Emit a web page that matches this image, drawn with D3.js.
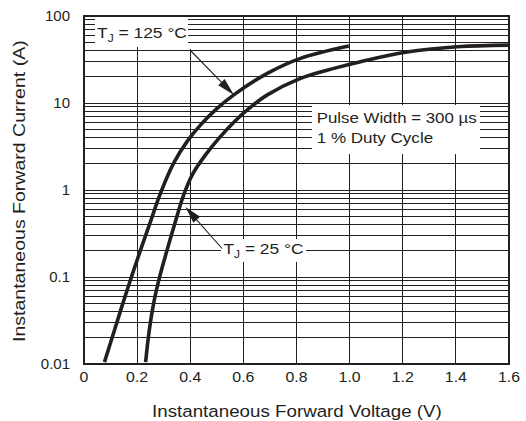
<!DOCTYPE html>
<html>
<head>
<meta charset="utf-8">
<script src="https://cdn.jsdelivr.net/npm/d3@7"></script>
<style>
  html, body { margin: 0; padding: 0; background: #fff; }
  svg { display: block; }
  text { font-family: "Liberation Sans", Arial, Helvetica, sans-serif; fill: #231f20; }
</style>
</head>
<body>
<div id="chart"></div>
<script>
// ---- data ----
const voltageTicks = [0, 0.2, 0.4, 0.6, 0.8, 1.0, 1.2, 1.4, 1.6];
const xTickLabels = ["0", "0.2", "0.4", "0.6", "0.8", "1.0", "1.2", "1.4", "1.6"];
const currentTicks = [0.01, 0.1, 1, 10, 100];
const yTickLabels = ["0.01", "0.1", "1", "10", "100"];

// T_J = 125 °C
const v125 = [0.077, 0.119, 0.150, 0.181, 0.213, 0.250, 0.288, 0.338, 0.389, 0.439, 0.500, 0.564, 0.690, 0.815, 0.997];
const i125 = [0.0105, 0.027, 0.054, 0.105, 0.205, 0.43, 0.92, 2.05, 3.65, 5.6, 8.6, 12.4, 21.9, 32.6, 45.1];

// T_J = 25 °C
const v25 = [0.232, 0.245, 0.262, 0.285, 0.312, 0.340, 0.376, 0.411, 0.456, 0.510, 0.566, 0.620, 0.690, 0.815, 0.941, 1.041, 1.204, 1.405, 1.6];
const i25 = [0.0105, 0.0235, 0.0495, 0.101, 0.200, 0.394, 0.89, 1.56, 2.5, 4.0, 6.1, 8.6, 12.4, 19.2, 25.0, 29.8, 38.0, 44.3, 46.3];

const xTitle = "Instantaneous Forward Voltage (V)";
const yTitle = "Instantaneous Forward Current (A)";

// ---- layout ----
const W = 526, H = 421;
const L = 84, R = 509, T = 16, B = 364;
const ink = "#231f20";

const svg = d3.select("#chart").append("svg").attr("width", W).attr("height", H);
svg.append("rect").attr("width", W).attr("height", H).attr("fill", "#fff");

const x = d3.scaleLinear().domain([0, 1.6]).range([L, R]);
const y = d3.scaleLog().domain([0.01, 100]).range([B, T]);

// vertical grid
const grid = svg.append("g").attr("stroke", ink).attr("stroke-width", 1).attr("shape-rendering", "crispEdges");
grid.selectAll("line.v").data(voltageTicks.slice(1, -1)).join("line")
  .attr("class", "v")
  .attr("x1", d => x(d)).attr("x2", d => x(d)).attr("y1", T).attr("y2", B);

// patch: vertical 0.4 line hidden above the 125 °C label leader
svg.append("rect").attr("x", x(0.4) - 2).attr("y", T + 1).attr("width", 4).attr("height", 32).attr("fill", "#fff");

// horizontal grid (minor + major)
const hVals = [];
for (let n = -2; n <= 1; n++) for (let k = 1; k <= 9; k++) {
  const v = k * Math.pow(10, n);
  if (v > 0.01) hVals.push(v);
}
hVals.push(100);
const hgrid = svg.append("g").attr("stroke", ink).attr("stroke-width", 1).attr("shape-rendering", "crispEdges");
hgrid.selectAll("line").data(hVals).join("line")
  .attr("x1", L).attr("x2", R).attr("y1", d => y(d)).attr("y2", d => y(d));

// label boxes (white backgrounds that break the grid)
const boxes = [
  {x: 95, y: 17, w: 93, h: 30},
  {x: 221, y: 239, w: 85, h: 23},
  {x: 312, y: 105, w: 168, h: 49}
];
svg.selectAll("rect.box").data(boxes).join("rect").attr("class", "box")
  .attr("x", d => d.x).attr("y", d => d.y).attr("width", d => d.w).attr("height", d => d.h)
  .attr("fill", "#fff");

// border
svg.append("rect").attr("x", L).attr("y", T).attr("width", R - L).attr("height", B - T)
  .attr("fill", "none").attr("stroke", ink).attr("stroke-width", 2);

// curves
const line = d3.line().x(d => x(d[0])).y(d => y(d[1])).curve(d3.curveCatmullRom.alpha(0.5));
const c125 = v125.map((v, i) => [v, i125[i]]);
const c25 = v25.map((v, i) => [v, i25[i]]);
svg.selectAll("path.curve").data([c125, c25]).join("path").attr("class", "curve")
  .attr("d", line).attr("fill", "none").attr("stroke", ink).attr("stroke-width", 3.6)
  .attr("stroke-linecap", "butt");

// arrows
function arrow(x1, y1, x2, y2, len, wid) {
  const dx = x2 - x1, dy = y2 - y1, Ln = Math.hypot(dx, dy);
  const ux = dx / Ln, uy = dy / Ln;
  const bx = x2 - ux * len, by = y2 - uy * len;
  const px = -uy * wid / 2, py = ux * wid / 2;
  svg.append("line").attr("x1", x1).attr("y1", y1).attr("x2", bx + ux * 2).attr("y2", by + uy * 2)
    .attr("stroke", ink).attr("stroke-width", 1.1);
  svg.append("path").attr("d", `M${x2},${y2}L${bx + px},${by + py}L${bx - px},${by - py}Z`).attr("fill", ink);
}
arrow(190.5, 50.5, 234, 95, 18, 9);
arrow(222, 248.5, 185.5, 207, 17, 9);

// stretched text helper
function fitText(parent, px, py, anchor, targetW, build, rotate) {
  const g = parent.append("g");
  const t = g.append("text").attr("x", 0).attr("y", 0);
  build(t);
  const w = t.node().getBBox().width || targetW;
  const k = targetW / w;
  let off = 0;
  if (anchor === "middle") off = -targetW / 2;
  if (anchor === "end") off = -targetW;
  if (rotate) g.attr("transform", `translate(${px},${py}) rotate(${rotate}) translate(${off},0) scale(${k},1)`);
  else g.attr("transform", `translate(${px + off},${py}) scale(${k},1)`);
  return g;
}

// x tick labels
voltageTicks.forEach((v, i) => {
  svg.append("text").attr("x", x(v)).attr("y", 382).attr("text-anchor", "middle")
    .attr("font-size", 15).attr("transform", `translate(${x(v)},0) scale(1.06,1) translate(${-x(v)},0)`)
    .text(xTickLabels[i]);
});
// y tick labels
currentTicks.forEach((v, i) => {
  svg.append("text").attr("x", 70).attr("y", y(v) + 5.3).attr("text-anchor", "end")
    .attr("font-size", 15).text(yTickLabels[i]);
});

// axis titles
fitText(svg, 297, 417, "middle", 290, t => t.attr("font-size", 17).text(xTitle));
fitText(svg, 25, 191, "middle", 302, t => t.attr("font-size", 17).text(yTitle), -90);

// annotations
function tj(t, num) {
  t.attr("font-size", 14.5);
  t.append("tspan").text("T");
  t.append("tspan").attr("font-size", 10).attr("dy", 4).text("J");
  t.append("tspan").attr("dy", -4).text(" = " + num + " °C");
}
fitText(svg, 97, 37.7, "start", 90, t => tj(t, "125"));
fitText(svg, 223.5, 254, "start", 80, t => tj(t, "25"));
fitText(svg, 316.7, 123.3, "start", 160, t => t.attr("font-size", 14.8).text("Pulse Width = 300 µs"));
fitText(svg, 316.7, 142.7, "start", 116.5, t => t.attr("font-size", 14.8).text("1 % Duty Cycle"));
</script>
</body>
</html>
